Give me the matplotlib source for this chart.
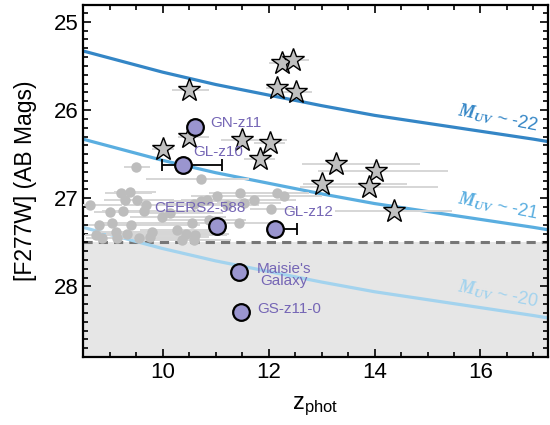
import matplotlib
matplotlib.use("Agg")
import matplotlib.pyplot as plt
import numpy as np

plt.rcParams['font.family'] = ['Liberation Sans', 'DejaVu Sans']
plt.rcParams['mathtext.fontset'] = 'custom'
plt.rcParams['mathtext.rm'] = 'Liberation Sans'
plt.rcParams['mathtext.it'] = 'Liberation Serif:italic:bold'

# magnitude track for M_UV ~ -22, the others are +1, +2
z_track = [8.5, 9.0, 9.5, 10.0, 11.0, 12.0, 13.0, 14.0, 15.0, 16.0, 17.0, 17.5]
m_track_22 = [25.33, 25.41, 25.49, 25.57, 25.71, 25.83, 25.95, 26.06, 26.15, 26.24, 26.33, 26.38]
muv_values = [-22, -21, -20]
muv_colors = ['#3486c6', '#5aaee0', '#a3d3ee']

# candidates (grey circles): z, mag, err_lo, err_hi
grey_z = [9.49, 10.73, 9.21, 9.38, 9.30, 9.51, 9.68, 8.64, 9.01, 9.25, 9.65, 11.03, 11.47,
          11.53, 11.72, 12.16, 12.30, 12.05, 10.72, 10.84, 10.59, 11.22, 11.44, 9.99, 10.87,
          10.15, 8.74, 8.86, 9.12, 9.15, 9.33, 9.40, 9.55, 9.77, 9.81, 10.28, 10.45, 10.56,
          10.62, 10.37, 10.59, 8.80, 9.05]
grey_m = [26.65, 26.78, 26.94, 26.93, 27.02, 27.02, 27.08, 27.08, 27.16, 27.14, 27.15, 26.97, 26.94,
          27.05, 27.02, 26.94, 26.98, 27.12, 27.03, 27.02, 27.06, 27.08, 27.28, 27.21, 27.25,
          27.17, 27.42, 27.45, 27.38, 27.45, 27.40, 27.30, 27.45, 27.44, 27.38, 27.36, 27.40, 27.28,
          27.42, 27.47, 27.47, 27.30, 27.28]
grey_lo = [0.22, 1.05, 0.3, 0.3, 0.4, 0.3, 0.4, 0.2, 0.3, 0.4, 0.5, 0.5, 0.6,
           0.5, 0.6, 0.4, 0.5, 0.4, 0.6, 0.5, 0.7, 0.5, 0.5, 0.6, 0.8,
           0.5, 0.2, 0.3, 0.4, 0.5, 0.4, 0.5, 0.6, 0.5, 0.6, 0.7, 0.8, 0.7,
           0.9, 0.8, 0.7, 0.2, 0.3]
grey_hi = [0.28, 0.9, 0.6, 0.5, 0.9, 0.7, 1.0, 0.6, 1.2, 1.5, 1.0, 0.8, 0.9,
           0.7, 0.8, 0.6, 0.7, 0.5, 0.8, 0.9, 0.7, 0.6, 0.6, 1.2, 0.7,
           1.0, 1.0, 0.8, 1.4, 1.2, 1.5, 1.3, 1.0, 1.1, 1.2, 0.9, 0.8, 1.0,
           0.6, 0.9, 0.7, 0.8, 1.0]

# stars
star_z = [10.50, 12.25, 12.47, 12.16, 12.52, 10.01, 10.50, 11.50, 12.02, 11.83, 13.27, 14.03, 13.01, 13.90, 14.36]
star_m = [25.77, 25.47, 25.43, 25.75, 25.80, 26.44, 26.30, 26.34, 26.37, 26.56, 26.61, 26.69, 26.84, 26.87, 27.14]
star_lo = [0.32, 0.25, 0.3, 0.2, 0.3, 0.2, 0.2, 0.4, 0.3, 0.3, 0.64, 1.09, 0.36, 1.3, 1.1]
star_hi = [0.37, 0.3, 0.3, 0.3, 0.3, 0.2, 0.37, 0.85, 0.3, 0.3, 1.58, 1.35, 1.6, 1.3, 1.1]

# named galaxies
named = ['GN-z11', 'GL-z10', 'CEERS2-588', 'GL-z12', "Maisie's\nGalaxy", 'GS-z11-0']
named_z = [10.61, 10.38, 11.03, 12.13, 11.44, 11.49]
named_m = [26.19, 26.62, 27.31, 27.35, 27.84, 28.29]
named_lo = [0.0, 0.39, 0.0, 0.0, 0.0, 0.0]
named_hi = [0.0, 0.74, 0.0, 0.41, 0.0, 0.0]
label_dx = [0.29, 0.2, -1.18, 0.15, 0.85, 0.3]
label_dy = [-0.04, -0.14, -0.2, -0.19, 0.03, -0.03]
label_ha = ['left', 'left', 'left', 'left', 'center', 'left']

mag_limit = 27.5

fig = plt.figure(figsize=(5.5, 4.25), dpi=100)
ax = fig.add_axes([0.151, 0.16, 0.845, 0.828])

ax.axhspan(mag_limit, 29, color='#e6e6e6', zorder=0, lw=0)
ax.axhline(mag_limit, color='#777777', lw=2.2, ls=(0, (3, 2)), zorder=1)

for i, (muv, c) in enumerate(zip(muv_values, muv_colors)):
    ax.plot(z_track, np.array(m_track_22) + i, color=c, lw=2.3, zorder=2)

label_y = [26.09, 27.09, 28.09]
for i, (muv, c) in enumerate(zip(muv_values, muv_colors)):
    ax.text(16.33, label_y[i], r'$M_{UV}$' + ' ~ ' + str(muv), color=c, fontsize=13,
            rotation=-11, ha='center', va='center', zorder=6)

ax.errorbar(grey_z, grey_m, xerr=[grey_lo, grey_hi], fmt='o', color='#bdbdbd',
            ecolor='#d6d6d6', elinewidth=1.4, capsize=0, ms=7.5, mec='none', zorder=3)

ax.errorbar(star_z, star_m, xerr=[star_lo, star_hi], fmt='none', ecolor='#d6d6d6',
            elinewidth=1.4, capsize=0, zorder=3)
ax.plot(star_z, star_m, '*', ms=17, mfc='#c0c0c0', mec='black', mew=1.0, ls='none', zorder=4)

ax.errorbar(named_z, named_m, xerr=[named_lo, named_hi], fmt='none', ecolor='black',
            elinewidth=1.3, capsize=4, capthick=1.3, zorder=4)
ax.plot(named_z, named_m, 'o', ms=12, mfc='#9a95cf', mec='black', mew=1.6, ls='none', zorder=5)
for n, z, m, dx, dy, ha in zip(named, named_z, named_m, label_dx, label_dy, label_ha):
    ax.text(z + dx, m + dy, n, color='#7566b5', fontsize=11, ha=ha, va='center',
            linespacing=0.9, zorder=6)

ax.set_xlim(8.5, 17.27)
ax.set_ylim(28.8, 24.81)
ax.set_xticks([10, 12, 14, 16])
ax.set_yticks([25, 26, 27, 28])
ax.set_xticks(np.arange(8.5, 17.3, 0.5), minor=True)
ax.set_yticks(np.arange(24.9, 28.8, 0.1), minor=True)
ax.tick_params(which='both', direction='in', top=True, right=True, labelsize=16, width=1.2)
ax.tick_params(which='major', length=6)
ax.tick_params(which='minor', length=3.5)
for s in ax.spines.values():
    s.set_linewidth(1.6)

ax.set_xlabel(r'z$_{\rm phot}$', fontsize=17, labelpad=8)
ax.set_ylabel('[F277W] (AB Mags)', fontsize=16.5, labelpad=12)

fig.savefig('out.png', dpi=100)
